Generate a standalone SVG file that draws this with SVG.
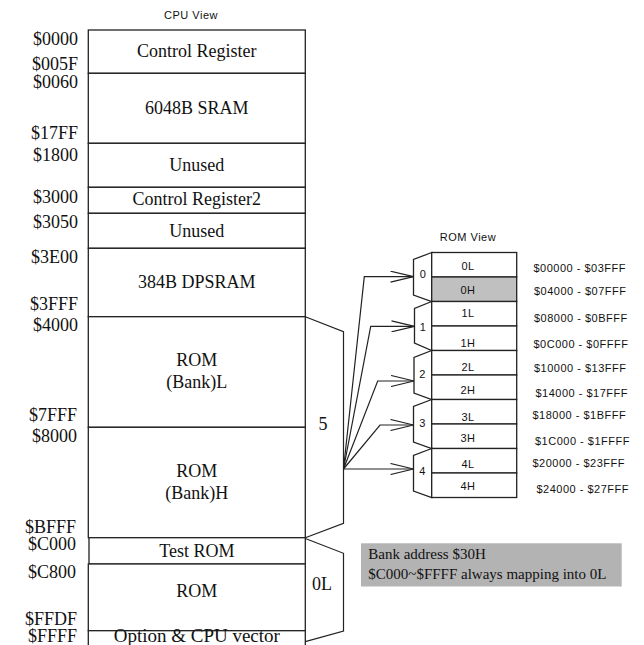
<svg xmlns="http://www.w3.org/2000/svg" width="644" height="645" viewBox="0 0 644 645">
<style>
.box{fill:#fff;stroke:#222;stroke-width:1.3}
.gray{fill:#c0c0c0;stroke:#222;stroke-width:1.3}
.ln{fill:none;stroke:#222;stroke-width:1.2}
.tm{font-family:"Liberation Serif","Times New Roman",serif;font-size:18px;fill:#111}
.addr{font-family:"Liberation Serif","Times New Roman",serif;font-size:18px;fill:#111;text-anchor:end}
.mid{text-anchor:middle}
.sf{font-family:"Liberation Sans",Arial,sans-serif;font-size:11px;fill:#111;letter-spacing:0.5px}
.note{font-family:"Liberation Serif","Times New Roman",serif;font-size:15px;fill:#111}
</style>
<defs>
<marker id="arr" viewBox="0 0 24 12" refX="23.5" refY="6" markerWidth="24" markerHeight="12" markerUnits="userSpaceOnUse" orient="auto">
<path d="M0.5,0.5 L23.5,6 L0.5,11.5" fill="none" stroke="#222" stroke-width="1.2"/>
</marker>
</defs>
<rect width="644" height="645" fill="#fff"/>

<text class="sf mid" x="191" y="19">CPU View</text>
<text class="sf mid" x="468" y="241">ROM View</text>

<g id="addresses">
<text class="addr" x="78" y="44.5">$0000</text>
<text class="addr" x="78" y="70">$005F</text>
<text class="addr" x="78" y="88">$0060</text>
<text class="addr" x="78" y="139">$17FF</text>
<text class="addr" x="78" y="161">$1800</text>
<text class="addr" x="78" y="203">$3000</text>
<text class="addr" x="78" y="228">$3050</text>
<text class="addr" x="78" y="263">$3E00</text>
<text class="addr" x="78" y="310">$3FFF</text>
<text class="addr" x="78" y="331">$4000</text>
<text class="addr" x="77" y="420.7">$7FFF</text>
<text class="addr" x="77" y="441.7">$8000</text>
<text class="addr" x="76" y="532.7">$BFFF</text>
<text class="addr" x="76" y="550">$C000</text>
<text class="addr" x="76" y="578">$C800</text>
<text class="addr" x="77" y="625">$FFDF</text>
<text class="addr" x="77" y="642">$FFFF</text>
</g>

<g id="control-register"><rect class="box" x="88.3" y="30" width="217" height="43.3"/><text class="tm mid" x="196.8" y="56.7">Control Register</text></g>
<g id="sram"><rect class="box" x="88.3" y="73.3" width="217" height="70"/><text class="tm mid" x="196.8" y="114.3">6048B SRAM</text></g>
<g id="unused1"><rect class="box" x="88.3" y="143.3" width="217" height="44"/><text class="tm mid" x="196.8" y="170.7">Unused</text></g>
<g id="control-register2"><rect class="box" x="88.3" y="187.3" width="217" height="26"/><text class="tm mid" x="196.8" y="205">Control Register2</text></g>
<g id="unused2"><rect class="box" x="88.3" y="213.3" width="217" height="35"/><text class="tm mid" x="196.8" y="236.7">Unused</text></g>
<g id="dpsram"><rect class="box" x="88.3" y="248.3" width="217" height="68.4"/><text class="tm mid" x="196.8" y="288.3">384B DPSRAM</text></g>
<g id="rom-bank-l"><rect class="box" x="88.3" y="316.7" width="217" height="110.6"/><text class="tm mid" x="196.8" y="366">ROM</text><text class="tm mid" x="196.8" y="388.3">(Bank)L</text></g>
<g id="rom-bank-h"><rect class="box" x="88.3" y="427.3" width="217" height="110.4"/><text class="tm mid" x="196.8" y="477.3">ROM</text><text class="tm mid" x="196.8" y="499.3">(Bank)H</text></g>
<g id="test-rom"><rect class="box" x="89" y="537.7" width="216.3" height="26.3"/><text class="tm mid" x="196.8" y="556.7">Test ROM</text></g>
<g id="rom"><rect class="box" x="88.3" y="564" width="217" height="66.7"/><text class="tm mid" x="196.8" y="596.7">ROM</text></g>
<g id="option"><rect class="box" x="88.3" y="630.7" width="217" height="30"/><text class="tm mid" x="196.8" y="642" style="font-size:19px">Option &amp; CPU vector</text></g>

<g id="bracket-5"><polyline class="ln" points="305.3,316.7 343.5,331.7 343.5,523.3 305.3,537.7"/><text class="tm mid" x="323" y="430">5</text></g>
<g id="bracket-0l"><polyline class="ln" points="305.3,538.5 343.5,553.3 343.5,631 305.3,641.7"/><text class="tm mid" x="322" y="590">0L</text></g>

<g id="bank0">
<polygon class="box" points="431.7,252.5 413.5,259.5 413.5,295 431.7,301.5"/>
<text class="sf mid" x="423" y="277.5">0</text>
<rect class="box" x="431.7" y="252.5" width="85" height="24.5"/><text class="sf mid" x="468" y="269.5">0L</text>
<rect class="gray" x="431.7" y="277" width="85" height="24.5"/><text class="sf mid" x="468" y="293.5">0H</text>
<text class="sf" x="533.5" y="271.5">$00000 - $03FFF</text>
<text class="sf" x="534" y="295">$04000 - $07FFF</text>
</g>
<g id="bank1">
<polygon class="box" points="431.7,301.5 414.5,308.5 414.5,343 431.7,350.5"/>
<text class="sf mid" x="423" y="330.5">1</text>
<rect class="box" x="431.7" y="301.5" width="85" height="24.5"/><text class="sf mid" x="468" y="317">1L</text>
<rect class="box" x="431.7" y="326" width="85" height="24.5"/><text class="sf mid" x="468" y="346.5">1H</text>
<text class="sf" x="534" y="321.7">$08000 - $0BFFF</text>
<text class="sf" x="533.5" y="348.3">$0C000 - $0FFFF</text>
</g>
<g id="bank2">
<polygon class="box" points="431.7,350.5 414,357.5 414,393 431.7,399.5"/>
<text class="sf mid" x="422.5" y="378.3">2</text>
<rect class="box" x="431.7" y="350.5" width="85" height="24.5"/><text class="sf mid" x="468" y="370.5">2L</text>
<rect class="box" x="431.7" y="375" width="85" height="24.5"/><text class="sf mid" x="468" y="393.5">2H</text>
<text class="sf" x="534" y="371.7">$10000 - $13FFF</text>
<text class="sf" x="535.5" y="396.7">$14000 - $17FFF</text>
</g>
<g id="bank3">
<polygon class="box" points="431.7,399.5 413.5,406.5 413.5,442 431.7,448.5"/>
<text class="sf mid" x="422.5" y="426.7">3</text>
<rect class="box" x="431.7" y="399.5" width="85" height="24.5"/><text class="sf mid" x="468" y="421">3L</text>
<rect class="box" x="431.7" y="424" width="85" height="24.5"/><text class="sf mid" x="468" y="441.5">3H</text>
<text class="sf" x="532.5" y="418.5">$18000 - $1BFFF</text>
<text class="sf" x="535" y="445">$1C000 - $1FFFF</text>
</g>
<g id="bank4">
<polygon class="box" points="431.7,448.5 413.5,455.5 413.5,491 431.7,497.5"/>
<text class="sf mid" x="422.5" y="475">4</text>
<rect class="box" x="431.7" y="448.5" width="85" height="24.5"/><text class="sf mid" x="468" y="468">4L</text>
<rect class="box" x="431.7" y="473" width="85" height="24.5"/><text class="sf mid" x="468" y="490">4H</text>
<text class="sf" x="532.5" y="466.7">$20000 - $23FFF</text>
<text class="sf" x="536.5" y="493.3">$24000 - $27FFF</text>
</g>

<g id="connectors">
<polyline class="ln" points="343.5,469 364.3,276.7 413.5,276.7" marker-end="url(#arr)"/>
<polyline class="ln" points="343.5,469 370.7,326.3 414.5,326.3" marker-end="url(#arr)"/>
<polyline class="ln" points="343.5,469 377.7,381 414,381" marker-end="url(#arr)"/>
<polyline class="ln" points="343.5,469 380,425 413.5,425" marker-end="url(#arr)"/>
<polyline class="ln" points="343.5,469 413.5,469" marker-end="url(#arr)"/>
</g>

<g id="note">
<rect x="361" y="543.3" width="260.7" height="43.2" fill="#b3b3b3"/>
<text class="note" x="368.3" y="558.5">Bank address $30H</text>
<text class="note" x="368.3" y="579.3">$C000~$FFFF always mapping into 0L</text>
</g>
</svg>
